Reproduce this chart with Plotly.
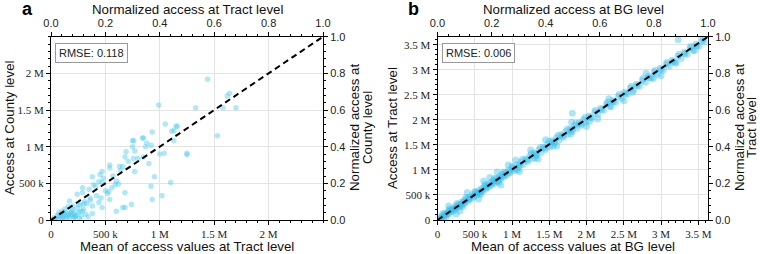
import plotly.graph_objects as go

# ---------------- data (values in millions) ----------------
# Panel a: mean access at Tract level (x) vs access at County level (y)
a_x = [1.44, 0.99, 1.33, 1.58, 1.70, 1.64, 1.62, 1.05, 1.15, 1.11, 0.93, 1.13, 1.53,
       0.76, 0.85, 0.88, 0.87, 1.16, 1.13, 0.75, 0.84, 0.92, 1.04, 1.00, 1.25, 1.25,
       0.75, 0.69, 0.68, 0.76, 0.85, 0.90, 0.95, 0.92, 1.10, 0.93, 1.02, 0.74, 0.68,
       0.60, 0.77, 0.66, 0.77, 0.63, 0.54, 0.54, 0.47, 0.45, 0.38, 0.60, 0.59, 0.56,
       0.53, 0.47, 0.41, 0.35, 0.29, 0.29, 0.24, 0.36, 0.44, 0.47, 0.54, 0.68, 0.66,
       0.38, 0.38, 0.29, 0.20, 0.17, 0.05, 0.08, 0.10, 0.12, 0.15, 0.18, 0.20, 0.22,
       0.25, 0.10, 0.13, 0.16, 0.07, 0.03, 0.28, 0.30, 0.32, 0.20, 0.14, 0.06, 0.09,
       0.11, 0.17, 0.19, 0.24, 0.26, 0.04, 0.02, 0.13, 0.21, 0.33, 0.42, 0.50, 0.31,
       0.27, 0.36, 0.44, 0.39, 0.23, 0.48, 0.57, 0.64, 0.71, 0.80, 0.62, 0.46, 0.52,
       0.08, 0.12, 0.16, 0.22, 0.27, 0.34, 0.18, 0.25, 0.11, 0.30, 0.15, 0.21]
a_y = [1.92, 1.57, 1.53, 1.53, 1.53, 1.73, 1.69, 1.31, 1.28, 1.21, 1.20, 1.08, 1.15,
       1.08, 1.12, 1.05, 1.00, 1.28, 1.22, 1.08, 1.12, 1.02, 0.91, 0.90, 0.91, 0.89,
       1.00, 0.93, 0.86, 0.84, 0.86, 0.77, 0.59, 0.46, 0.51, 0.28, 0.33, 0.21, 0.17,
       0.12, 0.94, 0.73, 0.66, 0.73, 0.75, 0.71, 0.66, 0.62, 0.59, 0.53, 0.48, 0.44,
       0.39, 0.51, 0.46, 0.42, 0.37, 0.44, 0.35, 0.30, 0.24, 0.17, 0.28, 0.37, 0.17,
       0.19, 0.09, 0.12, 0.19, 0.26, 0.02, 0.05, 0.03, 0.08, 0.05, 0.10, 0.07, 0.04,
       0.10, 0.12, 0.15, 0.18, 0.10, 0.03, 0.05, 0.15, 0.08, 0.14, 0.02, 0.06, 0.08,
       0.01, 0.03, 0.12, 0.16, 0.02, 0.01, 0.01, 0.11, 0.09, 0.22, 0.33, 0.40, 0.25,
       0.20, 0.27, 0.52, 0.48, 0.06, 0.57, 0.60, 0.68, 0.80, 0.84, 0.49, 0.30, 0.36,
       0.04, 0.06, 0.09, 0.05, 0.12, 0.04, 0.06, 0.21, 0.05, 0.22, 0.07, 0.03]

# Panel b: mean access at BG level (x) vs access at Tract level (y)
b_x = [0.02, 0.04, 0.06, 0.08, 0.10, 0.12, 0.14, 0.15, 0.17, 0.19, 0.21, 0.22, 0.24, 0.26,
       0.28, 0.30, 0.32, 0.33, 0.35, 0.37, 0.39, 0.41, 0.43, 0.45, 0.47, 0.49, 0.51, 0.53,
       0.55, 0.57, 0.59, 0.61, 0.63, 0.65, 0.67, 0.69, 0.71, 0.73, 0.75, 0.77, 0.79, 0.81,
       0.83, 0.85, 0.87, 0.89, 0.91, 0.93, 0.95, 0.97, 1.00, 1.03, 1.06, 1.09, 1.12, 1.15,
       1.18, 1.21, 1.24, 1.27, 1.30, 1.33, 1.36, 1.39, 1.42, 1.45, 1.48, 1.51, 1.54, 1.57,
       1.60, 1.63, 1.66, 1.69, 1.72, 1.75, 1.78, 1.81, 1.84, 1.87, 1.90, 1.93, 1.96, 1.99,
       2.03, 2.07, 2.11, 2.15, 2.19, 2.23, 2.27, 2.31, 2.35, 2.39, 2.43, 2.47, 2.51, 2.55,
       2.59, 2.63, 2.67, 2.71, 2.75, 2.79, 2.83, 2.87, 2.91, 2.95, 2.99, 3.03, 3.07, 3.11,
       3.15, 3.19, 3.23, 3.27, 3.31, 3.35, 3.39, 3.43, 3.47, 3.51, 3.55, 3.58,
       0.15, 0.25, 0.40, 0.55, 0.62, 0.80, 0.85, 0.95, 1.10, 1.25, 1.35, 1.45, 1.60, 1.80,
       1.81, 2.00, 2.30, 2.50, 2.80, 3.00, 3.23, 0.70, 0.30, 1.05, 2.15,
       0.05, 0.09, 0.13, 0.18, 0.23, 0.27, 0.31, 0.36, 0.42, 0.48, 0.54, 0.60, 0.66, 0.72,
       0.78, 0.84, 0.90, 0.96, 1.02, 1.10, 1.20, 1.32, 1.44, 1.56, 1.68, 1.80, 1.92, 2.05,
       2.20, 2.36, 2.52, 2.68, 2.84, 3.00, 3.16, 3.32, 3.48,
       0.07, 0.16, 0.26, 0.38, 0.50, 0.64, 0.76, 0.88, 1.00, 1.14, 1.26, 1.38, 1.50, 1.62,
       1.74, 1.86, 1.98, 2.12, 2.28, 2.44, 2.60, 2.76, 2.92, 3.08, 3.24, 3.40, 3.56,
       0.11, 0.34, 0.58, 0.82, 1.07, 1.31, 1.55, 1.79, 2.04, 2.33, 2.62, 2.90, 3.20, 3.45]
b_y = [0.03, 0.02, 0.08, 0.06, 0.13, 0.10, 0.16, 0.12, 0.20, 0.17, 0.23, 0.19, 0.27, 0.24,
       0.31, 0.27, 0.35, 0.30, 0.38, 0.34, 0.42, 0.38, 0.46, 0.42, 0.51, 0.46, 0.55, 0.50,
       0.58, 0.54, 0.63, 0.58, 0.67, 0.62, 0.70, 0.66, 0.75, 0.70, 0.79, 0.74, 0.83, 0.78,
       0.87, 0.82, 0.91, 0.86, 0.95, 0.90, 0.99, 0.94, 1.04, 0.99, 1.10, 1.05, 1.16, 1.11,
       1.22, 1.17, 1.28, 1.23, 1.34, 1.29, 1.40, 1.35, 1.46, 1.41, 1.52, 1.47, 1.58, 1.53,
       1.64, 1.59, 1.70, 1.65, 1.76, 1.71, 1.82, 1.77, 1.88, 1.83, 1.94, 1.89, 2.00, 1.95,
       2.07, 2.03, 2.15, 2.11, 2.23, 2.19, 2.31, 2.27, 2.39, 2.35, 2.47, 2.43, 2.55, 2.51,
       2.63, 2.59, 2.71, 2.67, 2.79, 2.75, 2.87, 2.83, 2.95, 2.91, 3.03, 2.99, 3.11, 3.07,
       3.19, 3.15, 3.27, 3.23, 3.35, 3.31, 3.43, 3.39, 3.51, 3.47, 3.58, 3.56,
       0.28, 0.12, 0.55, 0.42, 0.78, 0.96, 0.70, 1.10, 0.97, 1.40, 1.22, 1.60, 1.48, 1.95,
       2.13, 1.87, 2.42, 2.38, 2.93, 2.88, 3.60, 0.85, 0.18, 1.20, 2.02,
       0.05, 0.09, 0.13, 0.18, 0.23, 0.27, 0.31, 0.36, 0.42, 0.48, 0.54, 0.60, 0.66, 0.72,
       0.78, 0.84, 0.90, 0.96, 1.02, 1.10, 1.20, 1.32, 1.44, 1.56, 1.68, 1.80, 1.92, 2.05,
       2.20, 2.36, 2.52, 2.68, 2.84, 3.00, 3.16, 3.32, 3.48,
       0.13, 0.22, 0.33, 0.45, 0.57, 0.71, 0.83, 0.95, 1.07, 1.21, 1.33, 1.45, 1.57, 1.69,
       1.81, 1.93, 2.05, 2.19, 2.35, 2.51, 2.67, 2.83, 2.99, 3.15, 3.31, 3.47, 3.62,
       0.05, 0.27, 0.51, 0.75, 1.00, 1.24, 1.48, 1.72, 1.97, 2.26, 2.55, 2.83, 3.13, 3.38]

# axis extents (millions)
a_max_x, a_max_y = 2.5, 2.5
b_max_x, b_max_y = 3.63, 3.66

raw_ticks_a = [0, 0.5, 1.0, 1.5, 2.0]
raw_ticks_b = [0, 0.5, 1.0, 1.5, 2.0, 2.5, 3.0, 3.5]
raw_ticktext = ["0", "500 k", "1 M", "1.5 M", "2 M", "2.5 M", "3 M", "3.5 M"]
norm_ticks = [0.0, 0.2, 0.4, 0.6, 0.8, 1.0]
norm_ticktext = ["0.0", "0.2", "0.4", "0.6", "0.8", "1.0"]

rmse_a = "RMSE: 0.118"
rmse_b = "RMSE: 0.006"

# ---------------- figure ----------------
fig = go.Figure()
fig.add_trace(go.Scatter(x=[v * 1e6 for v in a_x], y=[v * 1e6 for v in a_y], mode="markers",
                         marker=dict(color="rgb(80,205,240)", size=5.5, opacity=0.45, line=dict(width=0)),
                         xaxis="x", yaxis="y", showlegend=False))
fig.add_trace(go.Scatter(x=[0, 1], y=[0, 1], mode="lines",
                         line=dict(color="black", width=2, dash="6px,4px"),
                         xaxis="x2", yaxis="y2", showlegend=False))
fig.add_trace(go.Scatter(x=[v * 1e6 for v in b_x], y=[v * 1e6 for v in b_y], mode="markers",
                         marker=dict(color="rgb(50,190,238)", size=7, opacity=0.4, line=dict(width=0)),
                         xaxis="x3", yaxis="y3", showlegend=False))
fig.add_trace(go.Scatter(x=[0, 1], y=[0, 1], mode="lines",
                         line=dict(color="black", width=2, dash="6px,4px"),
                         xaxis="x4", yaxis="y4", showlegend=False))

W, H = 760, 254
y0, y1 = (H - 220) / H, (H - 36.7) / H
ax_dom = [51 / W, 323 / W]
bx_dom = [437.5 / W, 708 / W]

SERIF = dict(family="Liberation Serif", size=11, color="#222")
SANS = dict(family="Liberation Sans", size=11, color="#222")
common = dict(showline=True, linecolor="black", linewidth=1, ticks="outside", ticklen=4,
              tickcolor="black", zeroline=False, automargin=False)
grid = dict(showgrid=True, gridcolor="#e3e3e3", gridwidth=1)


def raw_axis(dom, rng, vals, anchor):
    d = dict(common, **grid, range=[0, rng * 1e6], tickvals=[v * 1e6 for v in vals],
             ticktext=raw_ticktext[:len(vals)], tickfont=SERIF, anchor=anchor,
             minor=dict(dtick=1e5, ticklen=2, tickcolor="black", showgrid=False, ticks="outside"))
    d["domain"] = dom
    return d


def norm_axis(over, anchor, side):
    return dict(common, showgrid=False, range=[0, 1], tickvals=norm_ticks, ticktext=norm_ticktext,
                tickfont=SANS, overlaying=over, anchor=anchor, side=side,
                minor=dict(dtick=0.04, ticklen=2, tickcolor="black", showgrid=False, ticks="outside"))


fig.update_layout(
    width=W, height=H, margin=dict(l=0, r=0, t=0, b=0, autoexpand=False),
    paper_bgcolor="white", plot_bgcolor="white",
    xaxis=raw_axis(ax_dom, a_max_x, raw_ticks_a, "y"),
    yaxis=raw_axis([y0, y1], a_max_y, raw_ticks_a, "x"),
    xaxis2=norm_axis("x", "y", "top"),
    yaxis2=norm_axis("y", "x", "right"),
    xaxis3=raw_axis(bx_dom, b_max_x, raw_ticks_b, "y3"),
    yaxis3=raw_axis([y0, y1], b_max_y, raw_ticks_b, "x3"),
    xaxis4=norm_axis("x3", "y3", "top"),
    yaxis4=norm_axis("y3", "x3", "right"),
)

TF = dict(family="Liberation Sans", size=13.3, color="#111")
ann = []


def txt(x, y, s, font=TF, angle=0, **kw):
    ann.append(dict(x=x / W, y=1 - y / H, xref="paper", yref="paper", text=s, showarrow=False,
                    font=font, textangle=angle, xanchor="center", yanchor="middle", **kw))


# panel a
txt(187, 9, "Normalized access at Tract level")
txt(187, 246, "Mean of access values at Tract level")
txt(9, 128, "Access at County level", angle=-90)
txt(354, 128, "Normalized access at", angle=-90)
txt(367, 128, "County level", angle=-90)
txt(28, 9, "<b>a</b>", font=dict(family="Liberation Sans", size=18, color="black"))
# panel b
txt(573, 9, "Normalized access at BG level")
txt(573, 246, "Mean of access values at BG level")
txt(392, 128, "Access at Tract level", angle=-90)
txt(739, 128, "Normalized access at", angle=-90)
txt(751, 128, "Tract level", angle=-90)
txt(413, 9, "<b>b</b>", font=dict(family="Liberation Sans", size=18, color="black"))

for xa, s in ((55, rmse_a), (442, rmse_b)):
    ann.append(dict(x=xa / W, y=1 - 43 / H, xref="paper", yref="paper", text=s, showarrow=False,
                    xanchor="left", yanchor="top", font=dict(family="Liberation Sans", size=11, color="#222"),
                    bordercolor="#999", borderwidth=1, borderpad=3, bgcolor="white"))

fig.update_layout(annotations=ann)
fig.write_html("out.html", config={"displayModeBar": False},
               post_script="document.body.style.margin='0';document.body.style.padding='0';")
